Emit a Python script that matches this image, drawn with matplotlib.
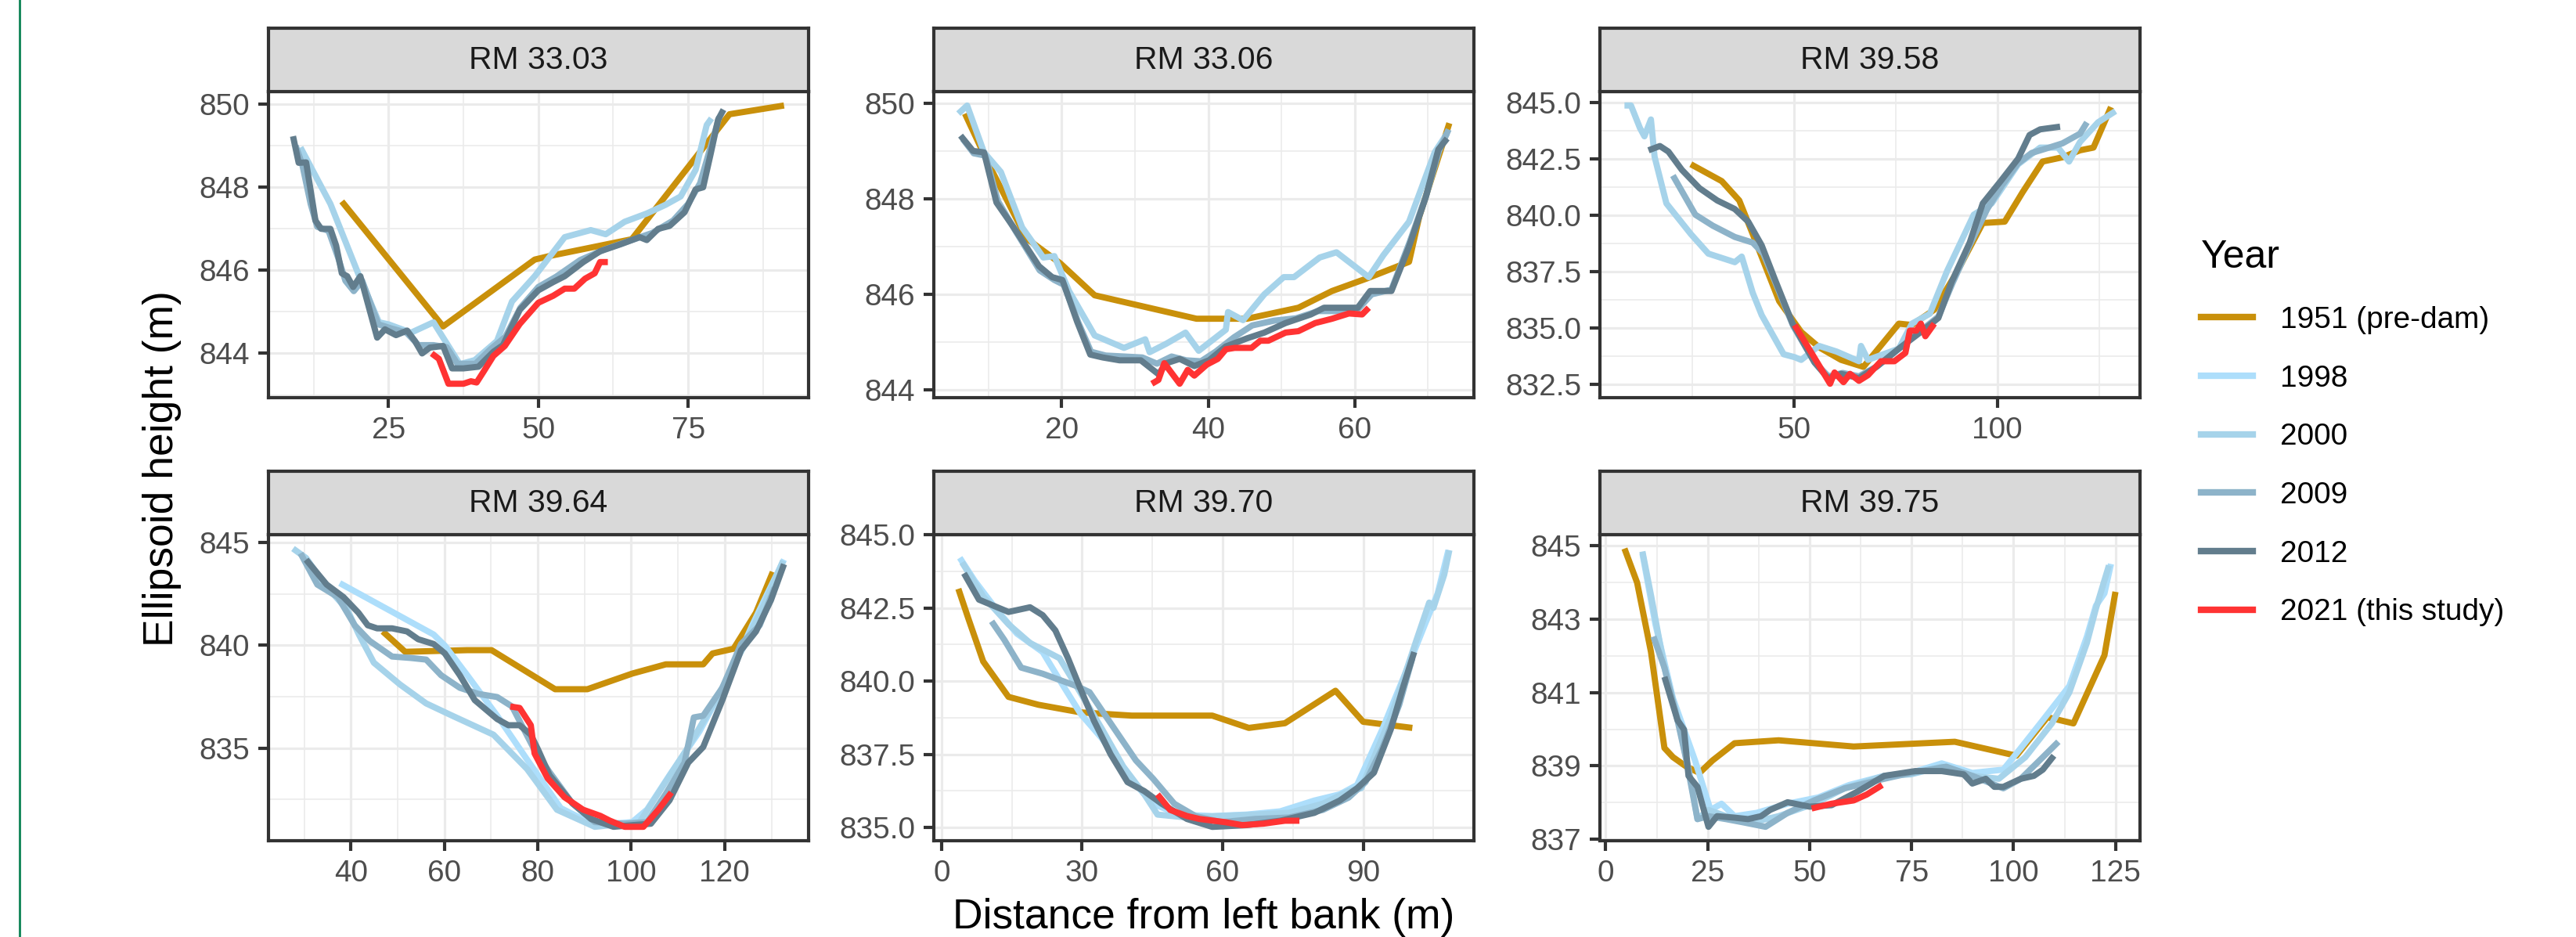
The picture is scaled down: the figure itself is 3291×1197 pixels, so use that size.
import matplotlib.pyplot as plt
from matplotlib.lines import Line2D
import numpy as np

plt.rcParams['font.family'] = ['Liberation Sans', 'DejaVu Sans']

years = ["1951 (pre-dam)", "1998", "2000", "2009", "2012", "2021 (this study)"]
year_colors = ["#C9900A", "#ADDEFB", "#A6D3EA", "#8DB3C9", "#627D8D", "#FF3333"]
panel_titles = ["RM 33.03", "RM 33.06", "RM 39.58", "RM 39.64", "RM 39.70", "RM 39.75"]

# ---- RM 33.03 ----
rm3303_1951_x = [17.2, 34.1, 49.4, 52.0, 65.6, 81.9, 91.0]
rm3303_1951_y = [847.66, 844.65, 846.26, 846.35, 846.75, 849.76, 849.97]
rm3303_2000_x = [10.3, 15.3, 20.0, 23.4, 25.0, 28.75, 32.5, 36.9, 39.4, 43.1, 45.6, 49.4, 54.4, 58.75,
                 61.25, 64.4, 68.1, 71.25, 73.75, 76.25, 78.1, 78.9]
rm3303_2000_y = [848.96, 847.6, 845.9, 844.75, 844.7, 844.5, 844.75, 843.74, 843.84, 844.3, 845.25, 845.86,
                 846.8, 846.97, 846.87, 847.17, 847.37, 847.58, 847.78, 848.42, 849.5, 849.66]
rm3303_2009_x = [9.5, 10.6, 12.0, 13.1, 15.0, 16.6, 17.8, 19.2, 20.6, 23.3, 25.5, 28.0, 30.0, 32.5, 34.7,
                 36.5, 39.5, 42.0, 44.5, 47.0, 50.0, 53.0, 57.0, 61.0, 65.0, 69.0, 72.5, 75.0, 77.0, 78.8, 80.2]
rm3303_2009_y = [849.0, 848.55, 847.6, 847.05, 846.95, 846.3, 845.75, 845.5, 845.75, 844.7, 844.6, 844.5,
                 844.2, 844.2, 844.15, 843.75, 843.75, 844.1, 844.4, 845.1, 845.6, 845.85, 846.25, 846.5,
                 846.7, 846.9, 847.2, 847.6, 848.1, 849.0, 849.7]
rm3303_2012_x = [9.06, 10.0, 11.25, 12.8, 13.75, 15.3, 16.25, 17.2, 18.1, 19.1, 20.3, 23.1, 24.4, 26.25,
                 28.1, 29.4, 30.6, 31.9, 34.1, 35.6, 37.5, 40.0, 42.5, 44.1, 46.9, 50.0, 52.5, 54.4, 57.5,
                 60.3, 63.75, 66.9, 68.1, 70.0, 71.9, 74.4, 76.25, 77.5, 78.75, 80.0, 80.9]
rm3303_2012_y = [849.23, 848.59, 848.6, 847.2, 847.0, 847.0, 846.6, 845.93, 845.86, 845.6, 845.86, 844.38,
                 844.58, 844.44, 844.55, 844.3, 844.0, 844.14, 844.18, 843.64, 843.64, 843.68, 844.04,
                 844.2, 845.05, 845.52, 845.72, 845.86, 846.2, 846.46, 846.63, 846.8, 846.73, 847.0,
                 847.07, 847.4, 847.95, 848.0, 848.8, 849.63, 849.87]
rm3303_2021_x = [32.2, 33.4, 35.0, 37.5, 38.75, 39.7, 40.9, 42.5, 44.4, 46.9, 50.0, 52.5, 54.4, 56.0,
                 57.8, 59.4, 60.3, 61.6]
rm3303_2021_y = [844.0, 843.87, 843.27, 843.27, 843.33, 843.3, 843.57, 843.94, 844.18, 844.71, 845.22,
                 845.39, 845.56, 845.56, 845.8, 845.93, 846.2, 846.2]

# ---- RM 33.06 ----
rm3306_1951_x = [6.8, 9.97, 15.2, 19.8, 24.5, 38.4, 45.3, 52.3, 56.9, 61.6, 67.4, 68.8, 72.9]
rm3306_1951_y = [849.78, 848.74, 847.17, 846.65, 845.98, 845.49, 845.49, 845.72, 846.07, 846.33, 846.68,
                 847.63, 849.58]
rm3306_2000_x = [5.9, 7.1, 9.4, 11.7, 14.6, 17.5, 19.0, 21.0, 24.5, 28.5, 31.4, 32.0, 34.3, 36.9, 38.7,
                 42.4, 42.7, 44.75, 47.65, 50.3, 51.7, 55.2, 57.5, 61.9, 63.9, 67.4, 70.9, 72.6]
rm3306_2000_y = [849.78, 849.95, 848.97, 848.56, 847.4, 846.77, 846.8, 846.07, 845.14, 844.88, 845.06,
                 844.79, 844.97, 845.2, 844.82, 845.26, 845.63, 845.46, 846.0, 846.36, 846.36, 846.77,
                 846.88, 846.36, 846.82, 847.52, 848.97, 849.37]
rm3306_2009_x = [6.5, 8.0, 9.6, 11.3, 13.6, 17.0, 19.0, 20.3, 22.3, 24.0, 26.0, 28.5, 31.0, 33.0, 35.0,
                 37.0, 39.0, 41.0, 43.5, 46.0, 49.0, 52.0, 55.0, 58.0, 60.5, 62.3, 65.0, 67.5, 69.8, 71.5, 72.8]
rm3306_2009_y = [849.25, 848.95, 848.9, 847.95, 847.35, 846.5, 846.3, 846.2, 845.4, 844.8, 844.72, 844.7,
                 844.68, 844.55, 844.7, 844.62, 844.6, 844.8, 845.1, 845.35, 845.45, 845.5, 845.65,
                 845.65, 845.7, 846.0, 846.1, 847.1, 848.1, 849.0, 849.45]
rm3306_2012_x = [6.2, 7.9, 9.4, 11.1, 13.45, 16.9, 18.7, 20.1, 22.1, 23.9, 25.6, 27.9, 30.8, 33.2, 34.3,
                 36.1, 38.1, 40.1, 42.4, 45.3, 47.65, 50.55, 54.0, 55.8, 60.4, 62.1, 65.0, 67.4, 69.7,
                 71.4, 72.6]
rm3306_2012_y = [849.32, 849.0, 848.97, 847.92, 847.4, 846.59, 846.36, 846.3, 845.43, 844.74, 844.68,
                 844.62, 844.62, 844.33, 844.56, 844.65, 844.5, 844.62, 844.91, 845.08, 845.2, 845.4,
                 845.58, 845.72, 845.72, 846.07, 846.07, 847.0, 848.04, 849.03, 849.26]
rm3306_2021_x = [32.3, 33.2, 34.0, 36.1, 37.2, 38.1, 39.8, 41.3, 42.4, 43.6, 45.9, 47.1, 48.2, 50.55,
                 52.3, 54.6, 56.9, 59.2, 61.0, 61.9]
rm3306_2021_y = [844.13, 844.21, 844.56, 844.13, 844.42, 844.3, 844.53, 844.65, 844.85, 844.88, 844.88,
                 845.03, 845.03, 845.2, 845.23, 845.4, 845.49, 845.6, 845.58, 845.72]

# ---- RM 39.58 ----
rm3958_1951_x = [24.7, 32.3, 36.6, 39.9, 46.4, 51.8, 56.2, 61.6, 67.1, 75.8, 79.0, 84.5, 89.9, 96.4,
                 101.8, 106.2, 111.1, 116.0, 120.3, 123.6, 127.9]
rm3958_1951_y = [842.27, 841.52, 840.66, 839.17, 836.19, 834.82, 834.14, 833.58, 833.27, 835.19, 835.13,
                 835.81, 837.43, 839.66, 839.72, 841.03, 842.39, 842.58, 842.89, 843.01, 844.81]
rm3958_2000_x = [8.4, 10.0, 12.2, 13.3, 14.9, 15.8, 18.7, 24.7, 29.0, 35.5, 37.2, 39.9, 42.1, 47.5, 50.2,
                 51.8, 56.2, 60.5, 66.0, 66.5, 68.2, 75.8, 79.0, 83.4, 87.7, 94.2, 98.6, 105.1, 110.5,
                 114.9, 117.6, 120.3, 124.7, 129.0]
rm3958_2000_y = [844.88, 844.88, 843.88, 843.51, 844.26, 842.6, 840.53, 839.17, 838.3, 837.92, 838.17,
                 836.56, 835.57, 833.83, 833.7, 833.58, 834.2, 833.95, 833.52, 834.2, 833.58, 834.08,
                 835.19, 835.63, 837.55, 840.03, 840.53, 842.27, 843.01, 843.01, 842.39, 843.26,
                 844.13, 844.63]
rm3958_2009_x = [20.3, 25.8, 30.1, 35.5, 39.9, 42.5, 45.5, 49.8, 55.0, 58.5, 62.0, 66.0, 70.5, 76.0,
                 81.0, 85.5, 89.0, 93.0, 97.5, 101.0, 105.0, 108.4, 112.7, 116.0, 120.3, 122.0]
rm3958_2009_y = [841.77, 840.03, 839.54, 839.04, 838.79, 838.3, 837.0, 835.1, 833.5, 832.85, 833.0,
                 832.85, 833.3, 834.1, 834.85, 835.5, 837.0, 838.6, 840.28, 841.3, 842.3, 842.77,
                 843.01, 843.2, 843.63, 844.13]
rm3958_2012_x = [14.3, 17.1, 19.2, 22.5, 26.8, 31.2, 35.5, 38.8, 42.1, 45.3, 49.7, 55.1, 58.4, 61.6,
                 66.0, 70.3, 75.8, 81.2, 85.5, 88.8, 93.2, 96.4, 100.8, 105.1, 107.9, 110.5, 115.4]
rm3958_2012_y = [842.89, 843.08, 842.83, 842.02, 841.21, 840.66, 840.28, 839.72, 838.67, 837.18,
                 835.19, 833.46, 832.77, 832.96, 832.77, 833.27, 834.08, 834.82, 835.44, 837.06,
                 838.79, 840.53, 841.52, 842.52, 843.57, 843.82, 843.94]
rm3958_2021_x = [50.2, 52.9, 56.2, 58.9, 60.0, 62.2, 63.8, 66.0, 68.2, 71.4, 74.7, 77.4, 78.5, 80.1,
                 81.2, 82.3, 84.5]
rm3958_2021_y = [835.13, 834.32, 833.33, 832.52, 833.02, 832.59, 832.96, 832.65, 832.9, 833.52, 833.52,
                 833.89, 834.88, 834.88, 835.19, 834.63, 835.19]

# ---- RM 39.64 ----
rm3964_1951_x = [46.8, 51.6, 64.9, 70.1, 83.7, 90.6, 100.2, 107.4, 115.4, 117.4, 121.9, 126.7, 130.3]
rm3964_1951_y = [840.67, 839.68, 839.76, 839.76, 837.86, 837.86, 838.62, 839.07, 839.07, 839.6, 839.83,
                 841.58, 843.56]
rm3964_1998_x = [37.6, 57.7, 60.1, 64.9, 71.3, 77.7, 84.9, 92.2, 100.2, 103.4, 108.2, 114.6, 121.1,
                 125.9, 129.1, 132.7]
rm3964_1998_y = [843.02, 840.52, 839.98, 838.54, 836.57, 834.44, 832.08, 831.25, 831.4, 832.01, 833.68,
                 835.81, 838.54, 840.97, 842.49, 844.16]
rm3964_2000_x = [27.6, 30.4, 34.4, 39.2, 41.7, 44.9, 50.5, 56.1, 61.7, 70.5, 77.7, 84.1, 92.2, 101.8,
                 107.4, 112.2, 118.0, 124.0, 128.5, 132.5]
rm3964_2000_y = [844.7, 844.24, 842.95, 841.73, 840.52, 839.15, 838.09, 837.17, 836.57, 835.65, 833.98,
                 832.0, 831.17, 831.4, 833.37, 835.05, 837.3, 839.9, 842.0, 844.1]
rm3964_2009_x = [29.2, 32.8, 37.2, 40.8, 44.0, 48.8, 52.8, 56.1, 59.3, 63.3, 67.3, 71.3, 74.5, 79.3,
                 82.5, 87.4, 92.2, 98.6, 103.4, 107.4, 111.4, 113.4, 115.4, 119.5, 123.5, 127.5, 130.7]
rm3964_2009_y = [844.47, 842.95, 842.34, 840.97, 840.21, 839.45, 839.38, 839.3, 838.54, 837.93, 837.63,
                 837.48, 837.02, 834.9, 833.83, 832.31, 831.4, 831.32, 831.4, 832.77, 834.29, 836.49,
                 836.57, 837.93, 840.06, 840.97, 842.8]
rm3964_2012_x = [30.4, 34.8, 38.4, 41.6, 43.6, 45.6, 48.8, 52.0, 54.4, 57.7, 60.1, 63.3, 66.5, 71.3,
                 73.7, 76.1, 78.5, 80.1, 82.5, 87.4, 91.4, 96.2, 100.2, 104.2, 108.2, 112.2, 115.4,
                 119.5, 123.5, 126.7, 129.9, 132.7]
rm3964_2012_y = [844.16, 842.95, 842.34, 841.58, 840.97, 840.82, 840.82, 840.67, 840.29, 840.06,
                 839.6, 838.54, 837.33, 836.41, 836.11, 836.11, 835.65, 834.9, 833.68, 832.31,
                 831.55, 831.17, 831.25, 831.32, 832.46, 834.29, 835.05, 837.33, 839.76, 840.67,
                 842.19, 843.94]
rm3964_2021_x = [74.1, 76.1, 78.5, 79.3, 82.1, 85.7, 89.7, 93.4, 95.4, 98.6, 102.6, 105.8, 108.6]
rm3964_2021_y = [837.02, 836.95, 836.11, 834.74, 833.53, 832.61, 832.0, 831.7, 831.47, 831.17, 831.17,
                 832.0, 832.84]

# ---- RM 39.70 ----
rm3970_1951_x = [3.6, 5.7, 8.9, 14.3, 20.7, 29.7, 40.6, 57.8, 65.6, 73.3, 84.1, 90.0, 100.5]
rm3970_1951_y = [843.15, 842.15, 840.67, 839.46, 839.19, 838.93, 838.82, 838.82, 838.4, 838.56, 839.67,
                 838.61, 838.4]
rm3970_1998_x = [3.9, 7.1, 11.6, 16.1, 21.6, 25.2, 29.7, 34.3, 39.7, 45.2, 50.6, 57.8, 65.1, 72.3, 79.6,
                 85.0, 88.7, 94.1, 99.5, 103.2, 105.9, 108.2]
rm3970_1998_y = [844.21, 843.42, 842.47, 841.62, 840.99, 840.04, 838.88, 838.03, 836.76, 835.81,
                 835.44, 835.39, 835.44, 835.55, 835.92, 836.13, 836.45, 838.35, 840.46, 841.94,
                 842.99, 844.47]
rm3970_2000_x = [4.4, 8.9, 14.3, 18.9, 25.2, 28.8, 34.3, 38.8, 43.3, 46.1, 52.4, 59.7, 66.9, 74.2, 81.4,
                 86.9, 89.6, 95.9, 101.4, 104.1, 105.0, 107.3, 108.4]
rm3970_2000_y = [844.05, 842.89, 841.94, 841.3, 840.78, 839.83, 838.35, 837.08, 836.13, 835.44, 835.34,
                 835.39, 835.44, 835.5, 835.81, 836.24, 836.34, 838.77, 841.41, 842.68, 842.5, 843.63,
                 844.47]
rm3970_2009_x = [10.7, 13.4, 17.0, 21.6, 25.2, 28.8, 31.6, 36.1, 41.5, 45.2, 49.7, 54.2, 59.7, 66.9,
                 74.2, 81.4, 86.9, 90.5, 94.1, 97.7, 100.5]
rm3970_2009_y = [842.04, 841.41, 840.46, 840.25, 840.04, 839.83, 839.62, 838.56, 837.29, 836.66,
                 835.81, 835.39, 835.18, 835.29, 835.34, 835.6, 836.02, 836.55, 837.71, 839.19, 840.78]
rm3970_2012_x = [4.8, 8.0, 14.3, 18.9, 21.6, 24.3, 27.0, 29.7, 32.5, 36.1, 39.7, 43.3, 47.0, 52.4, 57.8,
                 65.1, 72.3, 79.6, 85.0, 88.7, 92.3, 95.9, 98.6, 100.9]
rm3970_2012_y = [843.68, 842.78, 842.36, 842.52, 842.25, 841.73, 840.78, 839.72, 838.66, 837.5, 836.55,
                 836.24, 835.81, 835.29, 835.02, 835.08, 835.23, 835.5, 835.92, 836.34, 836.87,
                 838.35, 839.83, 840.99]
rm3970_2021_x = [46.1, 48.8, 52.4, 55.1, 60.6, 64.2, 68.7, 73.3, 76.4]
rm3970_2021_y = [836.13, 835.6, 835.39, 835.29, 835.18, 835.08, 835.13, 835.23, 835.23]

# ---- RM 39.75 ----
rm3975_1951_x = [4.6, 7.7, 11.1, 14.4, 16.5, 19.8, 23.0, 26.2, 31.6, 42.4, 60.8, 85.6, 100.7, 108.3,
                 114.7, 122.3, 125.0]
rm3975_1951_y = [844.93, 844.0, 842.11, 839.49, 839.24, 838.98, 838.81, 839.15, 839.62, 839.7, 839.53,
                 839.66, 839.28, 840.33, 840.16, 842.02, 843.75]
rm3975_1998_x = [9.0, 12.2, 16.5, 21.9, 25.7, 28.4, 31.6, 37.0, 44.6, 52.1, 59.7, 68.3, 74.8, 82.4,
                 89.9, 97.5, 101.8, 107.2, 113.7, 118.0, 120.2, 122.3, 123.9]
rm3975_1998_y = [844.8, 842.86, 840.84, 839.15, 837.8, 837.97, 837.63, 837.72, 837.97, 838.14, 838.48,
                 838.73, 838.81, 839.07, 838.81, 838.9, 839.49, 840.25, 841.18, 842.53, 843.37, 843.71,
                 844.51]
rm3975_2000_x = [9.0, 11.2, 14.4, 17.6, 20.8, 22.5, 25.2, 29.5, 35.9, 42.4, 51.1, 58.6, 68.3, 74.8,
                 82.4, 89.9, 96.4, 102.9, 109.4, 113.7, 118.0, 120.2, 123.4]
rm3975_2000_y = [844.85, 843.6, 841.68, 840.33, 838.65, 837.55, 837.8, 837.63, 837.46, 837.63, 837.97,
                 838.39, 838.73, 838.77, 838.98, 838.73, 838.65, 839.24, 840.16, 841.01, 842.36,
                 843.29, 844.47]
rm3975_2009_x = [11.7, 14.4, 17.6, 19.8, 22.5, 25.2, 29.5, 33.8, 39.2, 44.6, 51.1, 58.6, 68.3, 74.8,
                 83.5, 89.9, 97.5, 101.8, 107.2, 111.0]
rm3975_2009_y = [842.53, 841.68, 840.25, 839.15, 837.55, 837.63, 837.55, 837.46, 837.34, 837.72,
                 838.06, 838.39, 838.65, 838.81, 838.98, 838.73, 838.39, 838.65, 839.24, 839.66]
rm3975_2012_x = [14.4, 17.6, 19.2, 20.3, 22.5, 25.2, 27.3, 31.6, 34.9, 38.1, 40.3, 44.6, 50.0, 55.4,
                 61.9, 68.3, 75.9, 82.4, 87.8, 89.9, 93.2, 95.3, 97.5, 101.8, 105.0, 107.2, 109.9]
rm3975_2012_y = [841.43, 840.25, 839.99, 838.73, 838.43, 837.34, 837.63, 837.59, 837.55, 837.63, 837.8,
                 838.01, 837.89, 837.93, 838.31, 838.73, 838.86, 838.86, 838.77, 838.52, 838.65,
                 838.43, 838.43, 838.65, 838.73, 838.9, 839.28]
rm3975_2021_x = [50.5, 55.4, 60.8, 64.0, 67.8]
rm3975_2021_y = [837.84, 837.97, 838.06, 838.22, 838.48]

# tick breaks of each panel (ggplot free scales)
panel_xbreaks = [[25, 50, 75], [20, 40, 60], [50, 100], [40, 60, 80, 100, 120],
                 [0, 30, 60, 90], [0, 25, 50, 75, 100, 125]]
panel_ybreaks = [[844, 846, 848, 850], [844, 846, 848, 850], [832.5, 835, 837.5, 840, 842.5, 845],
                 [835, 840, 845], [835, 837.5, 840, 842.5, 845], [837, 839, 841, 843, 845]]
panel_yfmt = ["{:.0f}", "{:.0f}", "{:.1f}", "{:.0f}", "{:.1f}", "{:.0f}"]

panels = [
    {0: (rm3303_1951_x, rm3303_1951_y), 2: (rm3303_2000_x, rm3303_2000_y),
     3: (rm3303_2009_x, rm3303_2009_y), 4: (rm3303_2012_x, rm3303_2012_y),
     5: (rm3303_2021_x, rm3303_2021_y)},
    {0: (rm3306_1951_x, rm3306_1951_y), 2: (rm3306_2000_x, rm3306_2000_y),
     3: (rm3306_2009_x, rm3306_2009_y), 4: (rm3306_2012_x, rm3306_2012_y),
     5: (rm3306_2021_x, rm3306_2021_y)},
    {0: (rm3958_1951_x, rm3958_1951_y), 2: (rm3958_2000_x, rm3958_2000_y),
     3: (rm3958_2009_x, rm3958_2009_y), 4: (rm3958_2012_x, rm3958_2012_y),
     5: (rm3958_2021_x, rm3958_2021_y)},
    {0: (rm3964_1951_x, rm3964_1951_y), 1: (rm3964_1998_x, rm3964_1998_y),
     2: (rm3964_2000_x, rm3964_2000_y), 3: (rm3964_2009_x, rm3964_2009_y),
     4: (rm3964_2012_x, rm3964_2012_y), 5: (rm3964_2021_x, rm3964_2021_y)},
    {0: (rm3970_1951_x, rm3970_1951_y), 1: (rm3970_1998_x, rm3970_1998_y),
     2: (rm3970_2000_x, rm3970_2000_y), 3: (rm3970_2009_x, rm3970_2009_y),
     4: (rm3970_2012_x, rm3970_2012_y), 5: (rm3970_2021_x, rm3970_2021_y)},
    {0: (rm3975_1951_x, rm3975_1951_y), 1: (rm3975_1998_x, rm3975_1998_y),
     2: (rm3975_2000_x, rm3975_2000_y), 3: (rm3975_2009_x, rm3975_2009_y),
     4: (rm3975_2012_x, rm3975_2012_y), 5: (rm3975_2021_x, rm3975_2021_y)},
]

W, H = 3291, 1197
fig = plt.figure(figsize=(W / 300, H / 300), dpi=300)

col_left = [343, 1193, 2044]
panel_w = 690
strip_top = [36, 602]
strip_h = 81
panel_h = 391

tick_fs = 9.3
strip_fs = 9.8
title_fs = 12.8
dark = "#333333"


def expand(vals):
    lo, hi = min(vals), max(vals)
    pad = (hi - lo) * 0.05
    return lo - pad, hi + pad


def minors(breaks, lim):
    step = breaks[1] - breaks[0]
    ext = [breaks[0] - step] + list(breaks) + [breaks[-1] + step]
    mids = [(a + b) / 2 for a, b in zip(ext[:-1], ext[1:])]
    return [m for m in mids if lim[0] <= m <= lim[1]]


for i, series in enumerate(panels):
    r, c = divmod(i, 3)
    left = col_left[c] / W
    s_top = strip_top[r]
    p_top = s_top + strip_h
    ax = fig.add_axes([left, 1 - (p_top + panel_h) / H, panel_w / W, panel_h / H])
    sax = fig.add_axes([left, 1 - p_top / H, panel_w / W, strip_h / H])

    allx = [v for k in series for v in series[k][0]]
    ally = [v for k in series for v in series[k][1]]
    xlim = expand(allx)
    ylim = expand(ally)

    for k in sorted(series):
        xs, ys = series[k]
        ax.plot(xs, ys, color=year_colors[k], lw=1.9, solid_joinstyle='round',
                solid_capstyle='butt', zorder=3)

    ax.set_xlim(*xlim)
    ax.set_ylim(*ylim)
    xb = panel_xbreaks[i]
    yb = panel_ybreaks[i]
    ax.set_xticks(xb)
    ax.set_yticks(yb)
    ax.set_yticklabels([panel_yfmt[i].format(v) for v in yb])
    ax.set_xticks(minors(xb, xlim), minor=True)
    ax.set_yticks(minors(yb, ylim), minor=True)
    ax.grid(True, which='major', color='#EBEBEB', lw=0.75, zorder=0)
    ax.grid(True, which='minor', color='#EBEBEB', lw=0.4, zorder=0)
    ax.set_axisbelow(True)
    ax.tick_params(which='major', length=3.2, width=1.0, color=dark, labelsize=tick_fs,
                   labelcolor='#4D4D4D', pad=2.5)
    ax.tick_params(which='minor', length=0)
    for sp in ax.spines.values():
        sp.set_color(dark)
        sp.set_linewidth(1.0)

    sax.set_facecolor('#D9D9D9')
    sax.set_xticks([])
    sax.set_yticks([])
    for sp in sax.spines.values():
        sp.set_color(dark)
        sp.set_linewidth(1.0)
    sax.text(0.5, 0.5, panel_titles[i], ha='center', va='center', fontsize=strip_fs,
             color='#1A1A1A', transform=sax.transAxes)

fig.text(207 / W, 1 - 599 / H, "Ellipsoid height (m)", rotation=90, ha='center', va='center',
         fontsize=title_fs)
fig.text(1538 / W, 1 - 1172 / H, "Distance from left bank (m)", ha='center', va='center',
         fontsize=title_fs)

handles = [Line2D([], [], color=col, lw=2.0) for col in year_colors]
leg = fig.legend(handles, years, title="Year", loc='upper left',
                 bbox_to_anchor=(2812 / W, 1 - 306 / H), frameon=False, fontsize=tick_fs,
                 title_fontsize=12.0, handlelength=1.7, handletextpad=0.9,
                 labelspacing=1.0, borderpad=0, borderaxespad=0, alignment='left')

# thin green rule at the far left edge of the image
fig.add_artist(Line2D([25 / W, 25 / W], [0, 1], color='#15875A', lw=0.7))

fig.savefig("out.png", dpi=300, facecolor='white')
